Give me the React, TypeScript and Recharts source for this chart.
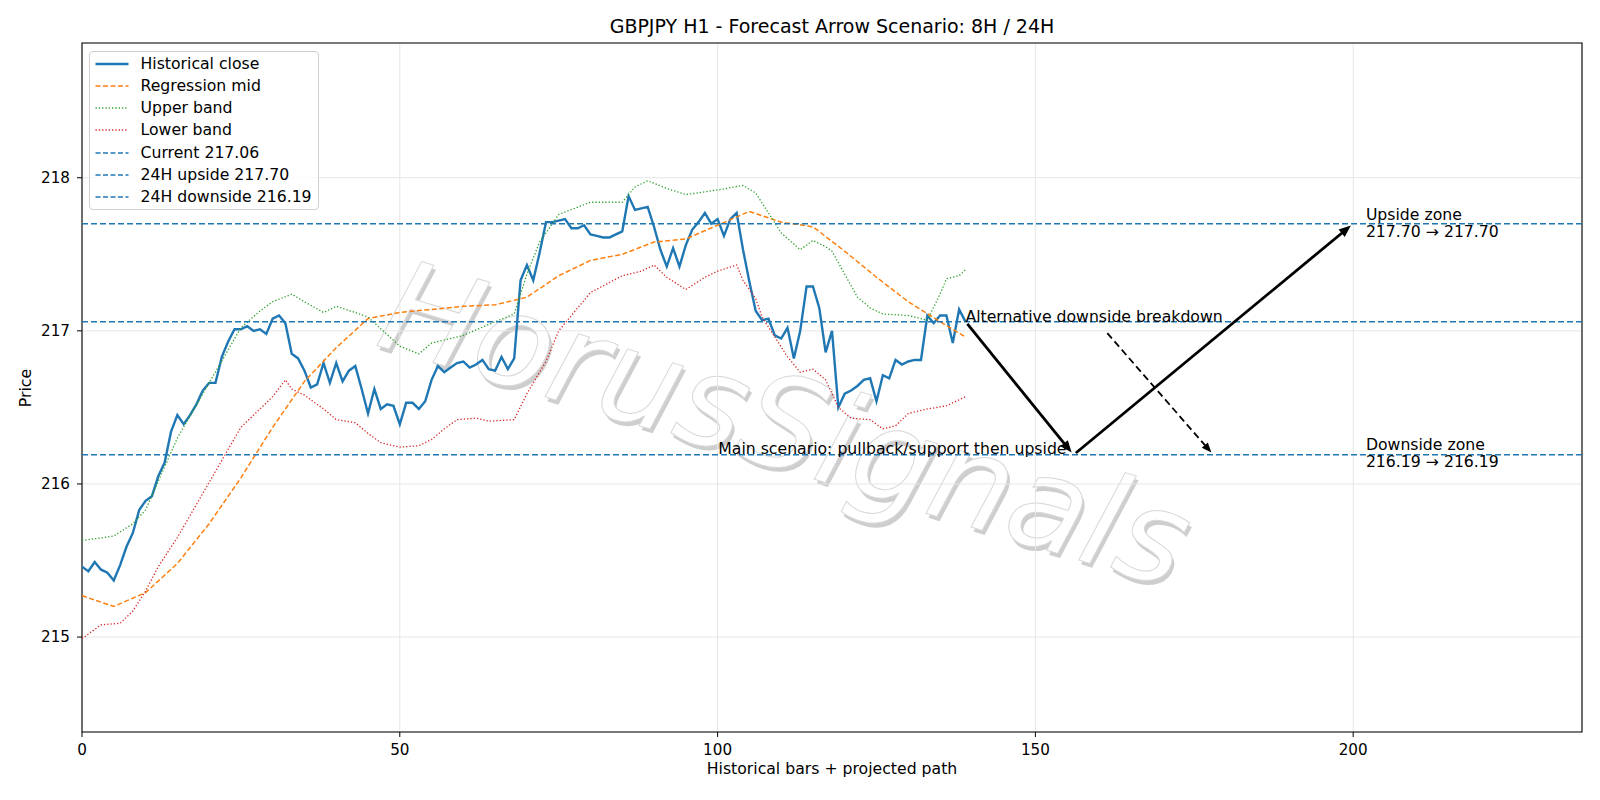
import React from "react";
import {
  LineChart,
  Line,
  XAxis,
  YAxis,
  CartesianGrid,
  ReferenceLine,
  ReferenceArea,
  ReferenceDot,
} from "recharts";

const FONT = "'DejaVu Sans', sans-serif";
const FS = 15.7; // annotation / legend text
const TICK_FS = 15.2;

// historical closes, one per bar (0..139)
const closeValues = [
  215.46, 215.43, 215.49, 215.44, 215.42, 215.37, 215.47, 215.59, 215.68, 215.83,
  215.89, 215.92, 216.05, 216.14, 216.34, 216.45, 216.39, 216.45, 216.52, 216.61,
  216.66, 216.66, 216.83, 216.93, 217.01, 217.01, 217.03, 217.0, 217.01, 216.98,
  217.08, 217.1, 217.05, 216.85, 216.82, 216.74, 216.63, 216.65, 216.79, 216.66,
  216.79, 216.67, 216.74, 216.77, 216.62, 216.46, 216.62, 216.49, 216.52, 216.51,
  216.39, 216.53, 216.53, 216.49, 216.54, 216.68, 216.77, 216.73, 216.76, 216.79,
  216.8, 216.76, 216.78, 216.81, 216.75, 216.74, 216.83, 216.75, 216.82, 217.33,
  217.43, 217.33, 217.51, 217.71, 217.71, 217.72, 217.73, 217.67, 217.67, 217.69,
  217.63, 217.62, 217.61, 217.61, 217.63, 217.65, 217.88, 217.79, 217.8, 217.81,
  217.68, 217.53, 217.42, 217.54, 217.42, 217.56, 217.66, 217.71, 217.77, 217.7,
  217.73, 217.62, 217.73, 217.77, 217.53, 217.32, 217.13, 217.07, 217.08, 216.97,
  216.95, 217.02, 216.82, 217.0, 217.29, 217.29, 217.15, 216.86, 217.0, 216.5,
  216.59, 216.61, 216.64, 216.68, 216.69, 216.54, 216.71, 216.69, 216.81, 216.78,
  216.8, 216.81, 216.81, 217.1, 217.05, 217.1, 217.1, 216.92, 217.14, 217.06,
];

// regression mid, read at selected bars
const midBars = [0, 5, 10, 15, 20, 25, 30, 35, 40, 45, 50, 55, 60, 65, 70, 75, 80, 85, 90, 95, 100, 105, 110, 115, 120, 125, 130, 135, 139];
const midValues = [
  215.27, 215.2, 215.29, 215.48, 215.74, 216.04, 216.37, 216.67, 216.89, 217.08, 217.12, 217.14, 217.16, 217.17, 217.22,
  217.36, 217.46, 217.5, 217.58, 217.6, 217.69, 217.78, 217.71, 217.68, 217.52, 217.35, 217.19, 217.06, 216.96,
];

const upperBars = [
  0, 5, 8, 10, 15, 20, 25, 28, 30, 33, 35, 38, 40, 43, 45, 50, 53, 55, 60, 65, 68, 70, 72, 75, 80, 85, 87, 89, 92, 95,
  100, 104, 106, 108, 110, 113, 115, 117, 118, 120, 122, 124, 126, 130, 133, 135, 136, 138, 139,
];
const upperValues = [
  215.63, 215.66, 215.74, 215.83, 216.3, 216.66, 217.02, 217.13, 217.19, 217.24, 217.19, 217.12, 217.16, 217.12, 217.09,
  216.9, 216.85, 216.92, 216.97, 217.06, 217.11, 217.37, 217.58, 217.76, 217.84, 217.84, 217.94, 217.98, 217.93, 217.89,
  217.92, 217.95, 217.9, 217.77, 217.64, 217.53, 217.59, 217.55, 217.52, 217.37, 217.22, 217.15, 217.11, 217.1, 217.07,
  217.24, 217.34, 217.36, 217.4,
];

const lowerBars = [
  0, 3, 6, 8, 10, 12, 15, 20, 25, 30, 32, 33, 35, 38, 40, 43, 45, 47, 50, 53, 55, 57, 59, 62, 64, 68, 70, 73, 75, 80,
  85, 88, 90, 92, 95, 98, 100, 103, 104, 106, 107, 109, 111, 113, 115, 117, 119, 121, 124, 126, 128, 130, 133, 136, 139,
];
const lowerValues = [
  214.99, 215.08, 215.09, 215.17, 215.3, 215.46, 215.65, 216.01, 216.37, 216.57, 216.68, 216.62, 216.58, 216.49, 216.42,
  216.4, 216.33, 216.27, 216.24, 216.25, 216.29, 216.36, 216.42, 216.43, 216.41, 216.42, 216.59, 216.8, 217.0, 217.25,
  217.36, 217.39, 217.43, 217.35, 217.27, 217.35, 217.39, 217.43, 217.33, 217.21, 217.09, 216.96, 216.83, 216.73, 216.75,
  216.68, 216.5, 216.43, 216.42, 216.36, 216.38, 216.46, 216.49, 216.51, 216.57,
];

const currentPrice = 217.06;
const upsideTarget = 217.7;
const downsideTarget = 216.19;

// projected path: [bar, price] pairs
const mainPullback = [
  [139, 217.06],
  [156, 216.19],
];
const mainUpside = [
  [156, 216.19],
  [200, 217.7],
];
const altBreakdown = [
  [161, 217.0],
  [178, 216.19],
];

const xTicks = [0, 50, 100, 150, 200];
const yTicks = [215, 216, 217, 218];
const xDomain = [0, 236];
const yDomain = [214.38, 218.88];

const BLUE = "#1f77b4";

const closeData = closeValues.map((v, i) => ({ x: i, y: v }));
const toPoints = (bars: number[], vals: number[]) => bars.map((b, i) => ({ x: b, y: vals[i] }));
const midData = toPoints(midBars, midValues);
const upperData = toPoints(upperBars, upperValues);
const lowerData = toPoints(lowerBars, lowerValues);

function arrowShape(dashed: boolean) {
  return (props: any) => {
    const { x1, y1, x2, y2 } = props;
    const dx = x2 - x1;
    const dy = y2 - y1;
    const len = Math.hypot(dx, dy) || 1;
    const ux = dx / len;
    const uy = dy / len;
    const sx = x1 + ux * 3;
    const sy = y1 + uy * 3;
    const tx = x2 - ux * 3;
    const ty = y2 - uy * 3;
    const hl = dashed ? 10 : 12;
    const hw = dashed ? 4 : 4.8;
    const bx = tx - ux * hl;
    const by = ty - uy * hl;
    const pts = `${tx},${ty} ${bx - uy * hw},${by + ux * hw} ${bx + uy * hw},${by - ux * hw}`;
    return (
      <g>
        <line
          x1={sx}
          y1={sy}
          x2={bx + ux * 2}
          y2={by + uy * 2}
          stroke="#000"
          strokeWidth={dashed ? 1.8 : 2.8}
          strokeDasharray={dashed ? "7 4" : undefined}
        />
        <polygon points={pts} fill="#000" />
      </g>
    );
  };
}

function textAt(lines: string[], anchor: "start" | "end", dx: number, dy: number) {
  return (props: any) => {
    const { cx, cy } = props;
    return (
      <text x={cx + dx} y={cy + dy} textAnchor={anchor} fontFamily={FONT} fontSize={FS} fill="#000">
        {lines.map((l, i) => (
          <tspan key={i} x={cx + dx} dy={i === 0 ? 0 : 17}>
            {l}
          </tspan>
        ))}
      </text>
    );
  };
}

const legendItems = [
  { label: "Historical close", color: BLUE, dash: undefined, width: 2.4 },
  { label: "Regression mid", color: "#ff7f0e", dash: "5 2.5", width: 1.5 },
  { label: "Upper band", color: "#2ca02c", dash: "1.3 2", width: 1.3 },
  { label: "Lower band", color: "#d62728", dash: "1.3 2", width: 1.3 },
  { label: `Current ${currentPrice.toFixed(2)}`, color: BLUE, dash: "5 2.5", width: 1.5 },
  { label: `24H upside ${upsideTarget.toFixed(2)}`, color: BLUE, dash: "5 2.5", width: 1.5 },
  { label: `24H downside ${downsideTarget.toFixed(2)}`, color: BLUE, dash: "5 2.5", width: 1.5 },
];

export default function App() {
  const seg = (p: number[][]) => p.map(([x, y]) => ({ x, y }));
  return (
    <div style={{ position: "relative", width: 1600, height: 800, margin: -8, background: "#fff", fontFamily: FONT }}>
      {/* title, y label and watermark sit behind the transparent chart */}
      <svg width={1600} height={800} style={{ position: "absolute", left: 0, top: 0 }}>
        <text x={832} y={33} textAnchor="middle" fontSize={19} fontFamily={FONT} fill="#000">
          GBPJPY H1 - Forecast Arrow Scenario: 8H / 24H
        </text>
        <text transform="translate(31,388) rotate(-90)" textAnchor="middle" fontSize={FS} fontFamily={FONT} fill="#000">
          Price
        </text>
        <g transform="translate(786,424) rotate(17)" fontFamily={FONT} fontSize={128} fontStyle="italic">
          <text x={3.5} y={3.5} textAnchor="middle" dominantBaseline="central" fill="#cecece">
            HorusSignals
          </text>
          <text x={0} y={0} textAnchor="middle" dominantBaseline="central" fill="#ffffff" stroke="#d8d8d8" strokeWidth={1}>
            HorusSignals
          </text>
        </g>
      </svg>

      <div style={{ position: "absolute", left: 0, top: 0 }}>
        <LineChart width={1600} height={800} data={closeData} margin={{ top: 43, right: 18, left: 0, bottom: 0 }}>
          <CartesianGrid stroke="#e6e6e6" strokeWidth={1} />
          <XAxis
            type="number"
            dataKey="x"
            domain={xDomain}
            ticks={xTicks}
            allowDataOverflow
            height={68}
            axisLine={false}
            tickLine={{ stroke: "#000" }}
            tickSize={5}
            tickMargin={7}
            tick={{ fill: "#000", fontSize: TICK_FS, fontFamily: FONT }}
            label={{ value: "Historical bars + projected path", position: "insideBottom", offset: 26, fill: "#000", fontSize: FS, fontFamily: FONT }}
          />
          <YAxis
            type="number"
            domain={yDomain}
            ticks={yTicks}
            allowDataOverflow
            width={82}
            axisLine={false}
            tickLine={{ stroke: "#000" }}
            tickSize={5}
            tickMargin={7}
            tick={{ fill: "#000", fontSize: TICK_FS, fontFamily: FONT }}
          />
          <ReferenceArea x1={xDomain[0]} x2={xDomain[1]} y1={yDomain[0]} y2={yDomain[1]} fill="none" stroke="#000" strokeWidth={1.1} ifOverflow="visible" />

          <Line data={closeData} dataKey="y" type="linear" stroke={BLUE} strokeWidth={2.4} dot={false} isAnimationActive={false} />
          <Line data={midData} dataKey="y" type="linear" stroke="#ff7f0e" strokeWidth={1.5} strokeDasharray="5 2.5" dot={false} isAnimationActive={false} />
          <Line data={upperData} dataKey="y" type="linear" stroke="#2ca02c" strokeWidth={1.3} strokeDasharray="1.3 2" dot={false} isAnimationActive={false} />
          <Line data={lowerData} dataKey="y" type="linear" stroke="#d62728" strokeWidth={1.3} strokeDasharray="1.3 2" dot={false} isAnimationActive={false} />

          <ReferenceLine y={currentPrice} stroke={BLUE} strokeWidth={1.5} strokeDasharray="6 3" />
          <ReferenceLine y={upsideTarget} stroke={BLUE} strokeWidth={1.5} strokeDasharray="6 3" />
          <ReferenceLine y={downsideTarget} stroke={BLUE} strokeWidth={1.5} strokeDasharray="6 3" />

          <ReferenceLine segment={seg(mainPullback)} shape={arrowShape(false)} />
          <ReferenceLine segment={seg(mainUpside)} shape={arrowShape(false)} />
          <ReferenceLine segment={seg(altBreakdown)} shape={arrowShape(true)} />

          <ReferenceDot x={mainPullback[0][0]} y={mainPullback[0][1]} shape={textAt(["Alternative downside breakdown"], "start", 0, 0)} />
          <ReferenceDot x={mainPullback[1][0]} y={mainPullback[1][1]} shape={textAt(["Main scenario: pullback/support then upside"], "end", -7, -1)} />
          <ReferenceDot x={202} y={upsideTarget} shape={textAt(["Upside zone", `${upsideTarget.toFixed(2)} → ${upsideTarget.toFixed(2)}`], "start", 0, -4)} />
          <ReferenceDot x={202} y={downsideTarget} shape={textAt(["Downside zone", `${downsideTarget.toFixed(2)} → ${downsideTarget.toFixed(2)}`], "start", 0, -5)} />
        </LineChart>
      </div>

      {/* legend box */}
      <div
        style={{
          position: "absolute",
          left: 88.5,
          top: 50.5,
          width: 230,
          height: 159,
          boxSizing: "border-box",
          border: "1px solid #d0d0d0",
          borderRadius: 4,
          background: "rgba(255,255,255,0.8)",
        }}
      >
        {legendItems.map((item, i) => (
          <div key={item.label} style={{ position: "absolute", left: 0, top: 12.8 + i * 22.05 - 10, height: 20, width: 228 }}>
            <svg width={40} height={20} style={{ position: "absolute", left: 0, top: 0 }}>
              <line x1={5.5} y1={10} x2={38.5} y2={10} stroke={item.color} strokeWidth={item.width} strokeDasharray={item.dash} />
            </svg>
            <span style={{ position: "absolute", left: 51, top: 0, lineHeight: "20px", fontSize: FS, color: "#000", whiteSpace: "nowrap" }}>
              {item.label}
            </span>
          </div>
        ))}
      </div>
    </div>
  );
}
